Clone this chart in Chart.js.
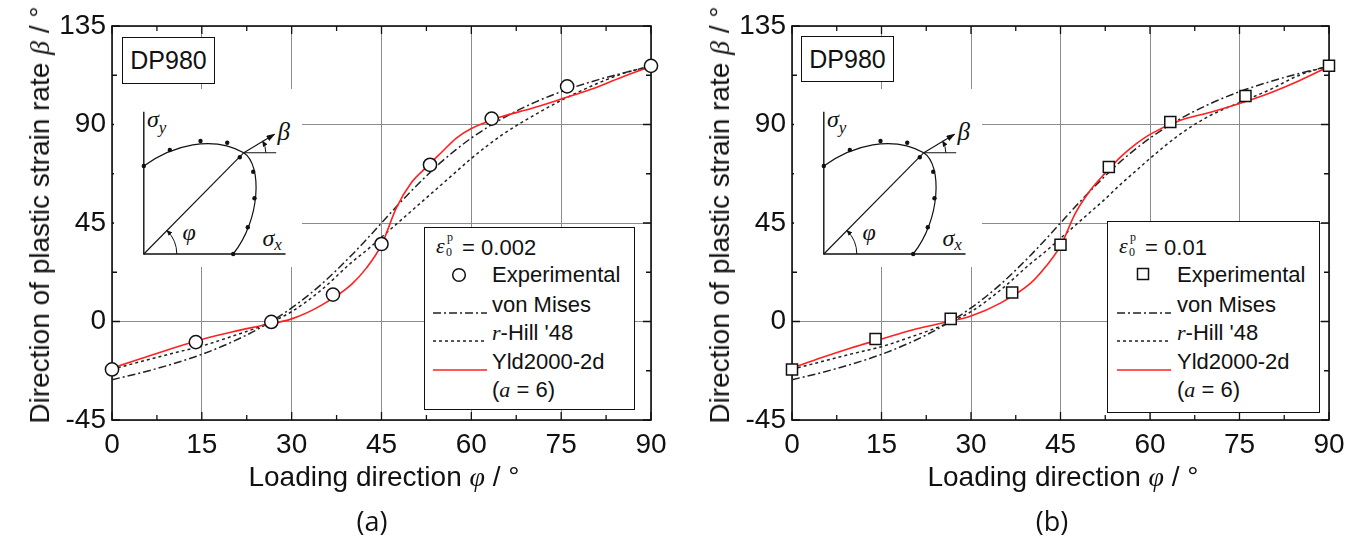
<!DOCTYPE html>
<html lang="en">
<head>
<meta charset="UTF-8">
<title>DP980: direction of plastic strain rate</title>
<script src="https://cdn.jsdelivr.net/npm/chart.js"></script>
<style>
  body { margin: 0; background: #fff; font-family: 'Liberation Sans', Arial, sans-serif; color: #111; }
  .panel { position: absolute; top: 0; width: 684px; height: 547px; }
  .panel canvas { position: absolute; left: 0; top: 0; }
  .ytitle { position: absolute; left: 40px; top: 215px; transform: translate(-50%, -50%) rotate(-90deg); white-space: nowrap; font-size: 28px; }
  .xtitle { position: absolute; top: 477px; transform: translate(-50%, -50%); white-space: nowrap; font-size: 28px; }
  .tag { position: absolute; top: 520px; transform: translate(-50%, -50%); font-family: 'Open Sans', sans-serif; font-size: 27px; }
  .sym { font-family: 'Liberation Serif', serif; font-style: italic; }
  .box { position: absolute; border: 1.5px solid #111; background: #fff; box-sizing: border-box; }
  .dp { font-size: 25px; display: flex; align-items: center; justify-content: center; }
  .row { position: absolute; font-size: 22px; white-space: nowrap; transform: translateY(-50%); }
  .inset { position: absolute; background: #fff; }
  .sample { position: absolute; transform: translateY(-50%); }
  .eps { display: inline-block; position: relative; width: 20px; height: 22px; vertical-align: -3px; }
  .eps i { font-family: 'Liberation Serif', serif; font-size: 22px; position: absolute; left: 0; top: -3px; }
  .eps .sp { position: absolute; left: 11px; top: -6px; font-size: 12px; font-family: 'Liberation Serif', serif; }
  .eps .sb { position: absolute; left: 10px; top: 9px; font-size: 12px; font-family: 'Liberation Serif', serif; }
</style>
</head>
<body>
<div class="panel" id="pa" style="left:0"><canvas id="ca" width="684" height="547"></canvas></div>
<div class="panel" id="pb" style="left:680px"><canvas id="cb" width="684" height="547"></canvas></div>
<script>
// loading direction phi (deg) used for the model curves
const phiModel = [0, 5, 10, 15, 20, 25, 30, 35, 40, 42.5, 45, 47.5, 50, 52.5, 55, 57.5, 60, 65, 70, 75, 80, 85, 90];
const vonMises = [-26.6, -23.3, -19.5, -15.0, -9.4, -2.5, 6.2, 17.1, 30.3, 37.5, 45.0, 52.5, 59.7, 66.5, 72.9, 78.6, 83.8, 92.5, 99.4, 105.0, 109.5, 113.3, 116.6];

// panel (a): eps0p = 0.002
const hillA = [-21.8, -18.2, -14.6, -11.2, -6.8, -2.0, 4.5, 14.5, 27.0, 32.5, 38.5, 44.5, 50.5, 56.5, 62.5, 68.5, 74.5, 85.0, 93.5, 101.0, 107.5, 113.0, 116.8];
const yldA = [-21.3, -16.8, -12.3, -8.2, -4.8, -1.8, 1.2, 7.5, 17.0, 24.5, 35.0, 52.0, 63.5, 70.5, 77.2, 83.8, 88.2, 93.5, 97.3, 101.6, 106.1, 111.5, 116.5];

// panel (b): eps0p = 0.01
const hillB = [-21.8, -18.3, -14.8, -11.5, -7.0, -2.0, 4.5, 14.5, 26.5, 32.0, 38.0, 44.0, 50.0, 56.0, 62.5, 68.5, 74.5, 85.5, 94.0, 100.0, 105.8, 112.5, 116.8];
const yldB = [-21.3, -16.5, -12.0, -8.0, -4.0, -0.8, 2.5, 8.5, 17.5, 25.0, 34.5, 49.5, 60.0, 67.8, 75.0, 80.8, 85.5, 91.8, 95.5, 99.6, 104.3, 110.0, 116.5];

// experiments
const phiExp = [0, 14.0, 26.6, 36.9, 45, 53.1, 63.4, 76.0, 90];
const expA = [-21.9, -9.4, -0.2, 12.3, 35.4, 71.6, 92.7, 107.4, 116.8];
const expB = [-21.9, -8.0, 1.2, 13.2, 35.1, 70.6, 91.1, 103.0, 116.8];

const xTicks = [0, 15, 30, 45, 60, 75, 90];
const yTicks = [-45, 0, 45, 90, 135];

const toXY = (xs, ys) => xs.map((x, i) => ({ x: x, y: ys[i] }));

// frame + inward tick marks on all four sides
const frameTicks = {
  id: 'frameTicks',
  beforeDatasetsDraw(chart) {
    const { ctx, chartArea: a, scales: { x, y } } = chart;
    ctx.save();
    ctx.strokeStyle = '#111';
    ctx.lineWidth = 1.3;
    for (let v = 0; v <= 90; v += 7.5) {
      const px = x.getPixelForValue(v), len = v % 15 === 0 ? 8 : 5;
      ctx.beginPath();
      ctx.moveTo(px, a.bottom); ctx.lineTo(px, a.bottom - len);
      ctx.moveTo(px, a.top); ctx.lineTo(px, a.top + len);
      ctx.stroke();
    }
    for (let v = -45; v <= 135; v += 22.5) {
      const py = y.getPixelForValue(v), len = v % 45 === 0 ? 8 : 5;
      ctx.beginPath();
      ctx.moveTo(a.left, py); ctx.lineTo(a.left + len, py);
      ctx.moveTo(a.right, py); ctx.lineTo(a.right - len, py);
      ctx.stroke();
    }
    ctx.lineWidth = 1.6;
    ctx.strokeRect(a.left, a.top, a.right - a.left, a.bottom - a.top);
    ctx.restore();
  }
};

function makeChart(canvas, cfg) {
  const tickFont = { family: "'Liberation Sans', Arial, sans-serif", size: 28 };
  return new Chart(canvas, {
    type: 'scatter',
    data: {
      datasets: [
        { label: 'Experimental', data: toXY(phiExp, cfg.exp), showLine: false, clip: false,
          pointStyle: cfg.marker, pointRadius: cfg.marker === 'rect' ? 7.8 : 6.6,
          pointBackgroundColor: '#fff', pointBorderColor: '#111', pointBorderWidth: 1.5 },
        { label: 'Yld2000-2d', data: toXY(phiModel, cfg.yld), showLine: true, pointRadius: 0,
          borderColor: '#ff2020', borderWidth: 1.6, cubicInterpolationMode: 'monotone' },
        { label: "r-Hill '48", data: toXY(phiModel, cfg.hill), showLine: true, pointRadius: 0,
          borderColor: '#222', borderWidth: 1.5, borderDash: [3, 3], cubicInterpolationMode: 'monotone' },
        { label: 'von Mises', data: toXY(phiModel, vonMises), showLine: true, pointRadius: 0,
          borderColor: '#222', borderWidth: 1.5, borderDash: [8, 3, 2, 3], cubicInterpolationMode: 'monotone' }
      ]
    },
    options: {
      responsive: false,
      animation: false,
      events: [],
      layout: { padding: { left: 0, top: 26, right: cfg.padRight, bottom: 52 } },
      plugins: { legend: { display: false }, tooltip: { enabled: false } },
      scales: {
        x: {
          type: 'linear', min: 0, max: 90,
          afterBuildTicks: s => { s.ticks = xTicks.map(v => ({ value: v })); },
          afterFit: s => { s.height = 75; },
          ticks: { font: tickFont, color: '#111', padding: 8 },
          grid: { color: '#8c8c8c', lineWidth: 1, drawTicks: false },
          border: { display: false }
        },
        y: {
          type: 'linear', min: -45, max: 135,
          afterBuildTicks: s => { s.ticks = yTicks.map(v => ({ value: v })); },
          afterFit: s => { s.width = 112; },
          ticks: { font: tickFont, color: '#111', padding: 6 },
          grid: { color: '#8c8c8c', lineWidth: 1, drawTicks: false },
          border: { display: false }
        }
      }
    },
    plugins: [frameTicks]
  });
}

function insetSvg(id) {
  const dots = [[31.3, 76], [57.3, 60], [88, 51], [114.7, 52.7], [127.3, 67.3], [140.7, 81.7], [142, 108.3], [135.3, 137.3], [120.7, 164]];
  return `<svg class="inset" width="188" height="178" style="left:113.5px;top:89px" viewBox="0 0 188 178">
    <defs>
      <marker id="ah${id}" markerWidth="9" markerHeight="6" refX="8" refY="3" orient="auto" markerUnits="userSpaceOnUse"><path d="M0,0 L9,3 L0,6 z" fill="#111"/></marker>
      <marker id="as${id}" markerWidth="6" markerHeight="5" refX="5" refY="2.5" orient="auto" markerUnits="userSpaceOnUse"><path d="M0,0 L6,2.5 L0,5 z" fill="#111"/></marker>
    </defs>
    <g transform="translate(-1.5,1)" stroke="#111" fill="none">
      <path d="M31.3,21.7 V164 H173" stroke-width="1.4"/>
      <path d="M31.3,76 C60,55 100,45 131.3,62.7 C150,75 148,130 120.7,164" stroke-width="1.2"/>
      <path d="M31.3,164 L131.3,62.7" stroke-width="1.1"/>
      <path d="M131.3,62.7 H163.7" stroke-width="1.1"/>
      <path d="M131.3,62.7 L162,44.3" stroke-width="1.1" marker-end="url(#ah${id})"/>
      <path d="M153.3,62.7 A22,22 0 0 0 150.2,51.4" stroke-width="1" marker-end="url(#as${id})"/>
      <path d="M64.3,164 A33,33 0 0 0 54.6,140.7" stroke-width="1" marker-end="url(#as${id})"/>
      ${dots.map(d => `<circle cx="${d[0]}" cy="${d[1]}" r="2.2" fill="#111" stroke="none"/>`).join('')}
      <g fill="#111" stroke="none" font-family="'Liberation Serif', serif" font-style="italic">
        <text x="34.5" y="37" font-size="24">σ<tspan font-size="17" dy="6">y</tspan></text>
        <text x="165" y="50" font-size="25">β</text>
        <text x="70" y="150" font-size="24">φ</text>
        <text x="150" y="156" font-size="24">σ<tspan font-size="17" dy="4">x</tspan></text>
      </g>
    </g>
  </svg>`;
}

function lineSample(dash, color) {
  return `<svg width="54" height="6"><line x1="0" y1="3" x2="54" y2="3" stroke="${color}" stroke-width="1.5" ${dash ? `stroke-dasharray="${dash}"` : ''}/></svg>`;
}

function decorate(panelId, cfg) {
  const p = document.getElementById(panelId);
  const L = cfg.legend;
  const mk = cfg.marker === 'rect'
    ? `<svg width="14" height="14"><rect x="1.5" y="1.5" width="11" height="11" fill="#fff" stroke="#111" stroke-width="1.5"/></svg>`
    : `<svg width="16" height="16"><circle cx="8" cy="8" r="6.3" fill="#fff" stroke="#111" stroke-width="1.5"/></svg>`;
  const rows = [248, 275, 305, 333, 362, 390];
  p.insertAdjacentHTML('beforeend', `
    <div class="ytitle">Direction of plastic strain rate <span class="sym">β</span> / °</div>
    <div class="xtitle" style="left:${cfg.center}px">Loading direction <span class="sym">φ</span> / °</div>
    <div class="tag" style="left:${cfg.tagX}px">${cfg.tag}</div>
    <div class="box dp" style="left:${cfg.dp[0]}px;top:${cfg.dp[1]}px;width:${cfg.dp[2]}px;height:${cfg.dp[3]}px">DP980</div>
    ${insetSvg(panelId)}
    <div class="box" style="left:${L.left}px;top:${L.top}px;width:${L.w}px;height:${L.h}px"></div>
    <div class="row" style="left:${L.left + 12}px;top:${rows[0]}px"><span class="eps"><i>ε</i><span class="sp">p</span><span class="sb">0</span></span> = ${cfg.strain}</div>
    <div class="sample" style="left:${L.left + L.mk - (cfg.marker === 'rect' ? 7 : 8)}px;top:${rows[1]}px;height:16px">${mk}</div>
    <div class="row" style="left:${L.left + L.txt}px;top:${rows[1]}px">Experimental</div>
    <div class="sample" style="left:${L.left + L.ln}px;top:${rows[2]}px;height:6px">${lineSample('8,3,2,3', '#222')}</div>
    <div class="row" style="left:${L.left + L.txt}px;top:${rows[2]}px">von Mises</div>
    <div class="sample" style="left:${L.left + L.ln}px;top:${rows[3]}px;height:6px">${lineSample('3,3', '#222')}</div>
    <div class="row" style="left:${L.left + L.txt}px;top:${rows[3]}px"><span class="sym">r</span>-Hill '48</div>
    <div class="sample" style="left:${L.left + L.ln}px;top:${rows[4]}px;height:6px">${lineSample('', '#ff2020')}</div>
    <div class="row" style="left:${L.left + L.txt}px;top:${rows[4]}px">Yld2000-2d</div>
    <div class="row" style="left:${L.left + L.txt}px;top:${rows[5]}px">(<span class="sym">a</span> = 6)</div>
  `);
}

const panelA = { exp: expA, hill: hillA, yld: yldA, marker: 'circle', padRight: 33 };
const panelB = { exp: expB, hill: hillB, yld: yldB, marker: 'rect', padRight: 35 };
makeChart(document.getElementById('ca'), panelA);
makeChart(document.getElementById('cb'), panelB);

decorate('pa', { marker: 'circle', strain: '0.002', tag: '(a)', tagX: 372, center: 384,
  dp: [122, 37, 93, 47], legend: { left: 424, top: 227, w: 211, h: 183, mk: 35, ln: 9, txt: 68 } });
decorate('pb', { marker: 'rect', strain: '0.01', tag: '(b)', tagX: 372, center: 383,
  dp: [121, 36, 93, 46], legend: { left: 427, top: 221, w: 213, h: 192, mk: 36, ln: 10, txt: 70 } });
</script>
</body>
</html>
